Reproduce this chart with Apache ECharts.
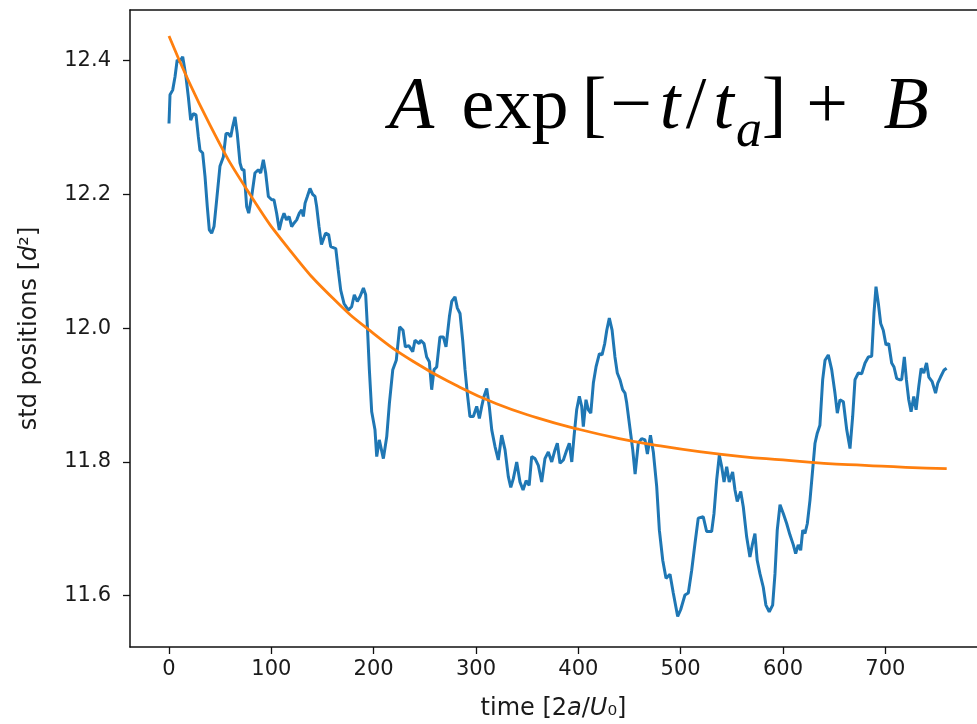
<!DOCTYPE html>
<html>
<head>
<meta charset="utf-8">
<script src="https://cdn.jsdelivr.net/npm/echarts@6/dist/echarts.min.js"></script>
<style>
  html, body { margin: 0; padding: 0; background: #fff; }
  #chart { width: 977px; height: 724px; }
</style>
</head>
<body>
<div id="chart"></div>
<script>
// Measured standard deviation of positions over time
const timeMeasured = [0,1,3.6,5.9,8,10.7,13.4,15,16.6,18.9,21.2,23.8,26.4,28.7,30.3,32.9,35.2,37.4,39.4,41.7,44,46.6,49.8,53.1,55.7,58,60.3,62.2,64.5,66.7,69.4,71.3,73.3,75.9,77.9,80.8,84,87.3,89.6,92.2,94.5,97.1,100.4,102.6,105.2,107.8,110.1,112.4,114.8,117.4,119.9,122.1,124.8,127.4,129.7,131.3,133,135.2,137.8,140.4,142.7,144.3,146.6,149,153,156,158,163,165.4,167.8,171,175.2,178.5,181.1,184,186.6,190,192.2,193.9,195.8,198.1,201.3,203,205.5,209.5,212.8,215.4,218.7,222.1,225.4,228.7,231,234.3,238.2,240.4,244.5,245.9,249.2,251.8,254.4,256.7,259,261.6,264.8,268.1,270.7,274,276.3,279.5,281.8,284.4,287,289.3,291.5,294.1,297.4,300.7,303.3,305.6,307.8,310.5,313,315.4,318.6,321.8,325.1,328.4,331.6,334,336.5,339.8,343,346,349,352,354.4,357.7,360.9,364.2,367.4,370.7,374,377.2,379.5,382.1,385.4,388.7,391.2,393.6,395.8,398.4,401,403.3,404.9,407.5,409.8,412.2,414.7,417.3,420.6,423.2,425.8,427.8,430.3,433,435.8,438.1,440.7,443.3,445.6,447.3,450.5,453.2,455.5,458.6,461.9,465.2,467.5,470.5,473.3,476.6,479.2,482.5,485.7,489.6,492.8,497.1,500,504.2,507.5,510.8,514,517.2,522.1,525.4,530.3,532.6,535.2,537.8,540.1,542.4,545,547.5,550.8,553.1,555.3,558.7,561.2,564.5,567.7,570.3,572.6,574.8,577.5,580.7,583.3,586.6,589.9,592.2,594.4,597.1,600.3,603.6,606.8,610.1,612.4,614.9,617.3,619.3,621.5,623.8,626.4,629,631.3,633.5,636.1,638.8,641.1,644.3,647.6,650.8,653.1,655.7,659,662.3,665.5,668.1,670.4,673.6,676.9,680.2,683.4,686.7,688.9,690.9,693.2,695.5,698,700.7,703.3,706.2,708.5,711.1,713.7,716,718.6,720.6,722.9,725.2,727.8,730.1,732.7,735,737.6,740.3,742.5,745.8,749.1,751.3,754,757.2,759.9];
const stdMeasured = [12.306,12.349,12.356,12.376,12.401,12.399,12.406,12.408,12.376,12.346,12.311,12.321,12.319,12.286,12.266,12.262,12.227,12.182,12.147,12.142,12.152,12.192,12.242,12.256,12.291,12.291,12.286,12.301,12.316,12.291,12.247,12.237,12.237,12.182,12.172,12.197,12.232,12.237,12.232,12.252,12.232,12.197,12.192,12.192,12.172,12.147,12.162,12.172,12.162,12.167,12.152,12.157,12.162,12.172,12.177,12.167,12.187,12.197,12.209,12.2,12.197,12.182,12.152,12.125,12.142,12.14,12.122,12.119,12.087,12.057,12.037,12.027,12.032,12.05,12.04,12.047,12.06,12.05,12.002,11.938,11.875,11.848,11.808,11.833,11.805,11.838,11.888,11.938,11.952,12.002,11.997,11.972,11.974,11.965,11.982,11.977,11.982,11.977,11.957,11.95,11.908,11.938,11.942,11.987,11.987,11.972,12.017,12.04,12.047,12.03,12.022,11.982,11.938,11.903,11.868,11.868,11.883,11.865,11.883,11.898,11.91,11.883,11.848,11.823,11.803,11.84,11.818,11.778,11.762,11.775,11.8,11.77,11.758,11.772,11.765,11.808,11.805,11.795,11.77,11.805,11.815,11.8,11.818,11.828,11.798,11.803,11.818,11.828,11.8,11.838,11.878,11.898,11.883,11.853,11.893,11.878,11.873,11.918,11.942,11.962,11.96,11.977,11.997,12.015,11.997,11.957,11.933,11.923,11.908,11.903,11.888,11.85,11.818,11.782,11.828,11.835,11.833,11.812,11.84,11.815,11.763,11.698,11.653,11.626,11.632,11.604,11.569,11.579,11.601,11.604,11.638,11.678,11.716,11.718,11.696,11.696,11.723,11.773,11.81,11.793,11.77,11.793,11.77,11.785,11.758,11.741,11.756,11.733,11.688,11.658,11.678,11.693,11.653,11.633,11.613,11.586,11.576,11.586,11.633,11.698,11.736,11.723,11.708,11.691,11.676,11.663,11.676,11.668,11.698,11.693,11.708,11.743,11.788,11.828,11.843,11.855,11.923,11.952,11.96,11.938,11.903,11.873,11.893,11.89,11.848,11.82,11.868,11.923,11.933,11.932,11.948,11.957,11.958,12.022,12.062,12.037,12.007,11.997,11.975,11.977,11.948,11.942,11.925,11.923,11.923,11.957,11.923,11.893,11.875,11.898,11.878,11.913,11.94,11.933,11.948,11.927,11.92,11.903,11.918,11.927,11.937,11.94];

// Exponential fit curve A exp[-t/t_a] + B
const timeFit = [0,40,80,120,160,200,240,280,320,360,400,440,480,520,560,600,640,680,720,760];
const stdFit = [12.437,12.304,12.198,12.113,12.045,11.992,11.949,11.915,11.887,11.866,11.849,11.835,11.824,11.815,11.808,11.803,11.798,11.795,11.792,11.790];

// Axis ticks
const xTicks = [0,100,200,300,400,500,600,700];
const yTicks = [11.6,11.8,12.0,12.2,12.4];

const zip = (xs, ys) => xs.map((x, i) => [x, ys[i]]);

const textColor = '#1a1a1a';
const axisColor = '#111';
const nameRich = {
  n: { fontFamily: 'DejaVu Sans', fontSize: 24, color: textColor },
  it: { fontFamily: 'DejaVu Sans', fontStyle: 'italic', fontSize: 24, color: textColor }
};

// Formula annotation, typeset piece by piece with math-like spacing
const serif = 'Liberation Serif';
const mathSize = 74;
const mathTok = (italic, padRight) => ({
  fontFamily: serif, fontStyle: italic ? 'italic' : 'normal',
  fontSize: mathSize, fill: '#000', padding: [0, padRight, 0, 0]
});

const chart = echarts.init(document.getElementById('chart'), null, { renderer: 'canvas' });

chart.setOption({
  animation: false,
  backgroundColor: '#fff',
  grid: { left: 130, right: 0, top: 10, bottom: 77, containLabel: false, outerBoundsMode: 'none' },
  xAxis: [{
    type: 'value',
    min: -38.1,
    max: 789.6,
    axisLine: { onZero: false, lineStyle: { color: axisColor, width: 1.5 } },
    axisTick: { customValues: xTicks, length: 7, lineStyle: { color: axisColor, width: 1.3 } },
    axisLabel: {
      customValues: xTicks, margin: 12,
      color: textColor, fontFamily: 'DejaVu Sans', fontSize: 21
    },
    splitLine: { show: false },
    name: '{n|time [2}{it|a}{n|/}{it|U}{n|₀]}',
    nameLocation: 'middle',
    nameGap: 50,
    nameTextStyle: { rich: nameRich }
  }, {
    type: 'value',
    position: 'top',
    min: -38.1,
    max: 789.6,
    axisLine: { onZero: false, lineStyle: { color: axisColor, width: 1.5 } },
    axisTick: { show: false },
    axisLabel: { show: false },
    splitLine: { show: false }
  }],
  yAxis: {
    type: 'value',
    min: 11.5233,
    max: 12.4758,
    axisLine: { onZero: false, lineStyle: { color: axisColor, width: 1.5 } },
    axisTick: { customValues: yTicks, length: 7, lineStyle: { color: axisColor, width: 1.3 } },
    axisLabel: {
      customValues: yTicks, margin: 19,
      color: textColor, fontFamily: 'DejaVu Sans', fontSize: 21,
      formatter: v => v.toFixed(1)
    },
    splitLine: { show: false },
    name: '{n|std positions [}{it|d}{n|²]}',
    nameLocation: 'middle',
    nameRotate: 90,
    nameGap: 88,
    nameTextStyle: { rich: nameRich }
  },
  graphic: [{
    type: 'text',
    left: 389,
    top: 72,
    style: {
      text: '{A|A}{exp|exp}{lb|[}{mi|−}{t1|t}{sl|/}{t2|t}{rb|]}{pl|+}{B|B}',
      rich: {
        A: mathTok(true, 27.4),
        exp: mathTok(false, 13.3),
        lb: mathTok(false, 3.8),
        mi: mathTok(false, 7.9),
        t1: mathTok(true, 5.4),
        sl: mathTok(false, 6.9),
        t2: mathTok(true, 27.9),
        rb: mathTok(false, 19.8),
        pl: mathTok(false, 35.6),
        B: mathTok(true, 0)
      }
    }
  }, {
    type: 'text',
    left: 736,
    top: 106,
    style: {
      text: 'a',
      fontFamily: serif, fontStyle: 'italic', fontSize: 52, fill: '#000'
    }
  }],
  series: [{
    type: 'line',
    data: zip(timeMeasured, stdMeasured),
    showSymbol: false,
    lineStyle: { color: '#1f77b4', width: 3 },
    itemStyle: { color: '#1f77b4' },
    z: 2
  }, {
    type: 'line',
    data: zip(timeFit, stdFit),
    showSymbol: false,
    smooth: true,
    lineStyle: { color: '#ff7f0e', width: 2.8 },
    itemStyle: { color: '#ff7f0e' },
    z: 3
  }]
});
</script>
</body>
</html>
